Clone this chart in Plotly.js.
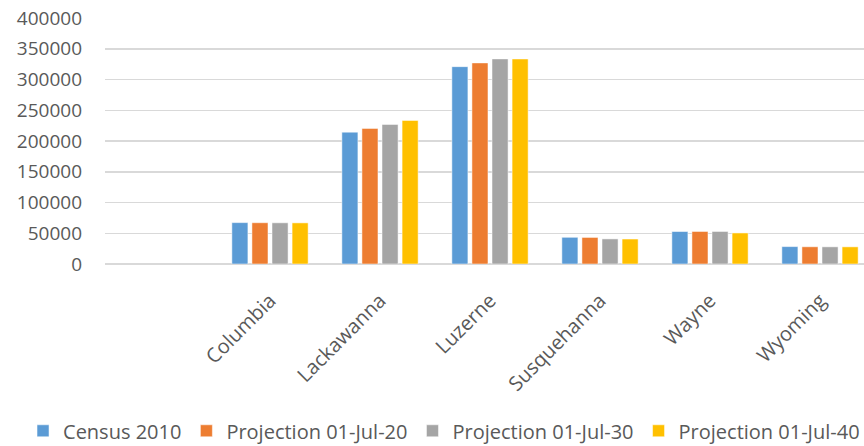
<!DOCTYPE html>
<html>
<head>
<meta charset="utf-8">
<script src="https://cdn.plot.ly/plotly-3.0.1.min.js"></script>
<style>
  html, body { margin: 0; padding: 0; background: #fff; }
  #chart { width: 864px; height: 446px; }
</style>
</head>
<body>
<div id="chart"></div>
<script>
// Counties and population series
const counties = ["Columbia", "Lackawanna", "Luzerne", "Susquehanna", "Wayne", "Wyoming"];
const census2010 = [67300, 214400, 320900, 43400, 52800, 28300];
const proj2020 = [67100, 220500, 327000, 43200, 52900, 28000];
const proj2030 = [67000, 227000, 333500, 40800, 52900, 27900];
const proj2040 = [66900, 233400, 333400, 40600, 50500, 27900];
const seriesNames = ["Census 2010", "Projection 01-Jul-20", "Projection 01-Jul-30", "Projection 01-Jul-40"];
const seriesColors = ["#5B9BD5", "#ED7D31", "#A5A5A5", "#FFC000"];
const yTicks = [0, 50000, 100000, 150000, 200000, 250000, 300000, 350000, 400000];

const seriesValues = [census2010, proj2020, proj2030, proj2040];
const traces = seriesValues.map((vals, i) => ({
  type: "bar",
  name: seriesNames[i],
  x: counties,
  y: vals,
  marker: { color: seriesColors[i], line: { color: "#ffffff", width: 0.5 } },
  hoverinfo: "x+y+name"
}));

const font = "'Open Sans', 'Noto Sans', sans-serif";

const layout = {
  width: 864,
  height: 446,
  margin: { l: 105, r: 0, t: 17.5, b: 181.5, autoexpand: false },
  paper_bgcolor: "#ffffff",
  plot_bgcolor: "#ffffff",
  barmode: "group",
  bargap: 0.27,
  bargroupgap: 0.2,
  font: { family: font, color: "#595959", size: 19 },
  xaxis: {
    type: "category",
    range: [-1.5, 5.4],
    tickangle: -45,
    showgrid: false,
    showline: false,
    zeroline: false,
    ticks: "",
    automargin: false,
    ticklabelstandoff: 20,
    tickfont: { family: font, size: 20, color: "#595959" }
  },
  yaxis: {
    range: [0, 400000],
    tickvals: yTicks,
    ticktext: yTicks.map(String),
    showgrid: true,
    gridcolor: "#d9d9d9",
    gridwidth: 1.5,
    zeroline: true,
    zerolinecolor: "#d9d9d9",
    zerolinewidth: 1.5,
    showline: false,
    ticks: "",
    automargin: false,
    ticklabelstandoff: 22,
    tickfont: { family: font, size: 19, color: "#595959" }
  },
  showlegend: true,
  legend: {
    orientation: "h",
    x: -0.108,
    xanchor: "left",
    y: -0.678,
    yanchor: "middle",
    font: { family: font, size: 20, color: "#595959" },
    itemwidth: 30,
    traceorder: "normal"
  }
};

Plotly.newPlot("chart", traces, layout, { displayModeBar: false, staticPlot: true });
</script>
</body>
</html>
